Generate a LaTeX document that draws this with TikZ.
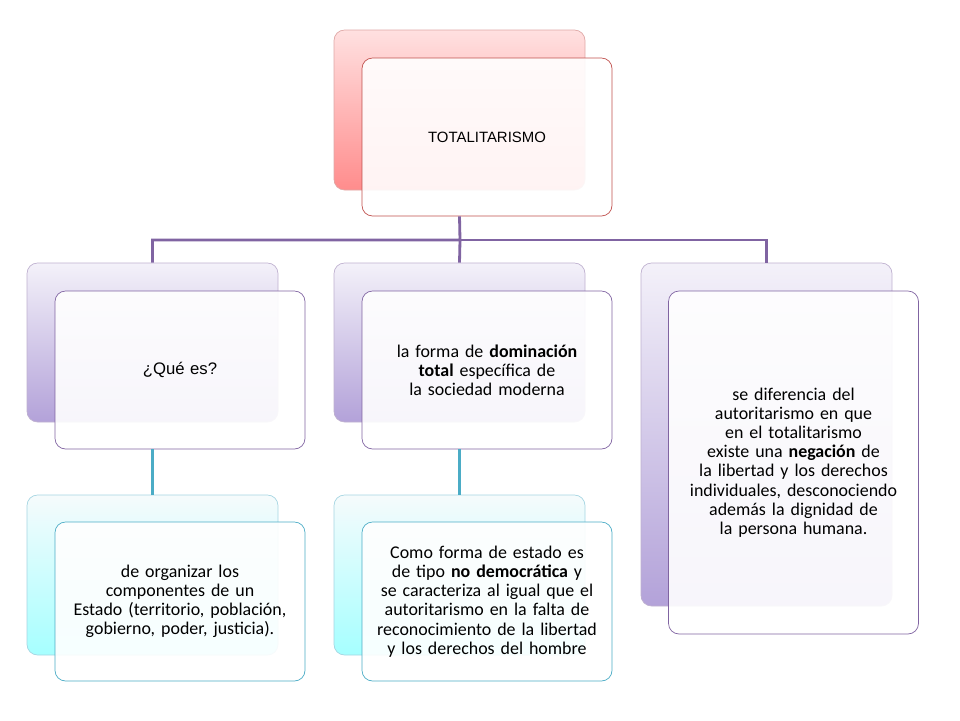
\documentclass[tikz,border=0pt]{standalone}
\usepackage{fontspec}
\setmainfont{Carlito}
\newfontfamily\arialfont{Liberation Sans}
\definecolor{purp}{HTML}{8064A2}
\definecolor{lila}{HTML}{B3A2D9}
\definecolor{teal}{HTML}{4BACC6}
\definecolor{redb}{HTML}{C0504D}
\begin{document}
\hyphenpenalty=10000
\exhyphenpenalty=10000
\begin{tikzpicture}[x=0.02cm,y=-0.02cm,
backbox/.style={
% The shape:
rectangle,rounded corners=6pt,
minimum width=251*0.02cm,
draw=#1!50,
},
frontbox/.style={
rectangle,rounded corners=6pt,
minimum width=250*0.02cm,
draw=#1,fill=white,fill opacity=0.9,text opacity=1,
text width=4.75cm,align=center,
font=\fontsize{10.2}{10.9}\selectfont
},
link/.style={draw=#1,line width=1.6pt}
]
\useasboundingbox (0,0) rectangle (960,720);
% top
\node (topback) [backbox=redb,minimum height=160*0.02cm,top color=red!12,bottom color=red!45] at (459.5,110) {};
\node (top) [frontbox=redb,minimum height=158*0.02cm,font=\arialfont\fontsize{8.5}{10}\selectfont] at (487,137) {TOTALITARISMO};
% second row
\node (qback) [backbox=purp,minimum height=159*0.02cm,top color=lila!15,bottom color=lila] at (152.5,342.5) {};
\node (que) [frontbox=purp,minimum height=158*0.02cm,font=\arialfont\fontsize{9.5}{11}\selectfont] at (180,370) {¿Qué es?};
\node (dback) [backbox=purp,minimum height=159*0.02cm,top color=lila!15,bottom color=lila] at (459.5,342.5) {};
\node (dom) [frontbox=purp,minimum height=158*0.02cm] at (487,370) {la forma de \textbf{dominación total} específica de la sociedad moderna};
\node (difback) [backbox=purp,minimum height=343*0.02cm,top color=lila!15,bottom color=lila] at (766.5,434.5) {};
\node (dif) [frontbox=purp,minimum height=343*0.02cm,text width=4.3cm] at (793.5,462.5) {se diferencia del autoritarismo en que en el totalitarismo existe una \textbf{negación} de la libertad y los derechos individuales, desconociendo además la dignidad de la persona humana.};
% third row
\node (orgback) [backbox=teal,minimum height=160*0.02cm,top color=teal!5,bottom color=cyan!35] at (152.5,575) {};
\node (org) [frontbox=teal,minimum height=159*0.02cm,text width=4.4cm] at (180,601.5) {de organizar los componentes de un Estado (territorio, población, gobierno, poder, justicia).};
\node (estback) [backbox=teal,minimum height=160*0.02cm,top color=teal!5,bottom color=cyan!35] at (459.5,575) {};
\node (est) [frontbox=teal,minimum height=159*0.02cm] at (487,601.5) {Como forma de estado es de tipo \textbf{no democrática} y se caracteriza al igual que el autoritarismo en la falta de reconocimiento de la libertad y los derechos del hombre};
% connectors
\coordinate (bar) at (460,240);
\draw [link=purp] (top.south -| topback.south) -- (bar) -| (qback.north);
\draw [link=purp] (bar) -| (difback.north);
\draw [link=purp] (bar) -- (dback.north);
\draw [link=teal] (qback.south) ++(0,27) -- (orgback.north);
\draw [link=teal] (dback.south) ++(0,27) -- (estback.north);
\end{tikzpicture}
\end{document}
